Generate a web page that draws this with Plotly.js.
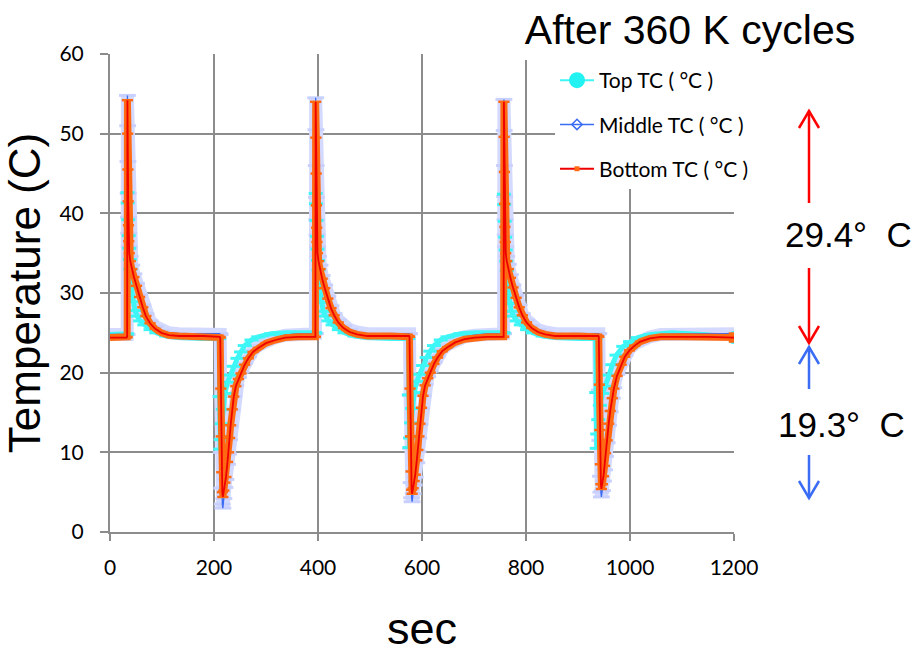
<!DOCTYPE html>
<html><head><meta charset="utf-8">
<script src="https://cdn.plot.ly/plotly-3.0.1.min.js"></script>
<style>html,body{margin:0;padding:0;background:#fff;}</style>
</head><body>
<div id="chart" style="width:919px;height:654px;"></div>
<script>
// ---- data ----
const sec = [
  0, 20, 32,
  33, 33.5, 34, 34.5, 35, 35.5, 36, 37, 39, 42, 46, 51, 57, 63, 69, 77, 87, 99, 113, 133, 180, 211,
  212, 213, 214, 215, 216, 217, 219, 221, 223, 226, 228, 230, 232, 235, 238, 242, 247, 252, 259, 266, 275, 285, 300, 318, 337, 362, 394,
  395, 395.5, 396, 396.5, 397, 397.5, 398, 399, 401, 404, 408, 413, 419, 425, 431, 439, 449, 461, 475, 495, 540, 575,
  576, 577, 578, 579, 580, 581, 583, 585, 587, 590, 592, 594, 596, 599, 602, 606, 611, 616, 623, 630, 639, 649, 664, 682, 701, 726, 756,
  757, 757.5, 758, 758.5, 759, 759.5, 760, 761, 763, 766, 770, 775, 781, 787, 793, 801, 811, 823, 837, 857, 900, 939,
  940, 941, 942, 943, 944, 945, 947, 949, 951, 953, 956, 959, 962, 966, 969, 975, 983, 990, 999, 1009, 1020, 1038, 1059, 1100, 1150, 1200
];
const bottomTC = [
  24.4, 24.4, 24.4,
  24.5, 54.2, 50, 45.5, 41.5, 38.5, 36.5, 35, 34, 33, 32, 30.9, 29.5, 28.2, 27.1, 26.2, 25.5, 25.0, 24.7, 24.6, 24.6, 24.5,
  24.4, 18, 12, 7.5, 5, 4.4, 5.2, 6.2, 6.9, 8.8, 10, 11.8, 13.4, 15.4, 17.0, 18.3, 19.2, 19.9, 21, 21.8, 22.6, 23.1, 23.7, 24.1, 24.4, 24.5, 24.5,
  24.5, 54.0, 49.5, 45, 41, 38.2, 36.4, 35, 34, 33, 31.8, 30.6, 29.3, 28.1, 27.2, 26.3, 25.6, 25.1, 24.8, 24.6, 24.6, 24.6,
  24.5, 18, 12, 7.6, 5.3, 4.8, 5.5, 6.4, 7.2, 9.0, 10.3, 12, 13.6, 15.6, 17.1, 18.4, 19.3, 20.0, 21.1, 21.9, 22.7, 23.2, 23.8, 24.2, 24.4, 24.5, 24.5,
  24.5, 54.0, 49.6, 45.2, 41.2, 38.3, 36.4, 35, 34, 33, 31.9, 30.7, 29.4, 28.2, 27.2, 26.3, 25.6, 25.1, 24.8, 24.6, 24.6, 24.6,
  24.5, 18.5, 12.8, 8.5, 6.0, 5.4, 6.0, 7.0, 8.3, 9.9, 11.5, 13.6, 15.2, 16.8, 18.0, 19.6, 21.0, 22.0, 22.8, 23.4, 23.9, 24.3, 24.5, 24.5, 24.5, 24.4
];
const middleTC = [
  24.8, 24.8, 24.8,
  24.8, 54.8, 51, 46.5, 42.5, 39.5, 37.5, 35.8, 34.6, 33.5, 32.4, 31.2, 29.8, 28.5, 27.4, 26.5, 25.8, 25.3, 25.0, 24.9, 24.9, 24.9,
  24.8, 17, 10, 5.5, 3.5, 3.0, 4.2, 5.6, 6.6, 8.5, 9.8, 11.6, 13.3, 15.3, 17.0, 18.4, 19.4, 20.1, 21.2, 22.0, 22.8, 23.4, 24.0, 24.4, 24.7, 24.9, 24.9,
  24.9, 54.5, 50.5, 46, 42, 39.2, 37.3, 35.8, 34.6, 33.5, 32.2, 31.0, 29.6, 28.4, 27.4, 26.6, 25.9, 25.4, 25.1, 24.9, 24.9, 24.9,
  24.9, 17.2, 10.5, 6.2, 4.3, 3.8, 4.8, 5.9, 6.9, 8.7, 10.1, 11.8, 13.5, 15.5, 17.1, 18.5, 19.5, 20.2, 21.3, 22.1, 22.9, 23.5, 24.1, 24.5, 24.7, 24.9, 24.9,
  24.9, 54.3, 50.4, 46, 42.1, 39.2, 37.3, 35.8, 34.6, 33.6, 32.3, 31.0, 29.7, 28.5, 27.4, 26.6, 25.9, 25.4, 25.1, 24.9, 24.9, 24.9,
  24.9, 17.8, 11.5, 7.0, 5.0, 4.4, 5.2, 6.4, 7.8, 9.5, 11.2, 13.4, 15.1, 16.8, 18.1, 19.8, 21.2, 22.2, 23.0, 23.6, 24.1, 24.5, 24.8, 24.9, 24.9, 24.9
];
const secTop = [
  0, 20, 32,
  33, 33.5, 34, 35, 36, 37, 38, 39, 41, 44, 48, 52, 58, 66, 78, 89, 108, 133, 180, 209,
  210, 211, 212, 213, 215, 217, 221, 226, 231, 238, 245, 252, 259, 272, 285, 310, 340, 394,
  395, 395.5, 396, 397, 398, 399, 400, 401, 403, 406, 410, 414, 420, 428, 440, 451, 470, 495, 540, 573,
  574, 575, 576, 577, 579, 581, 585, 590, 595, 602, 609, 616, 623, 636, 649, 674, 704, 756,
  757, 757.5, 758, 759, 760, 761, 762, 763, 765, 768, 772, 776, 782, 790, 802, 813, 832, 857, 900, 933,
  934, 935, 936, 937, 939, 942, 947, 953, 960, 966, 974, 987, 1000, 1015, 1040, 1080, 1140, 1200
];
const topTC = [
  24.8, 24.8, 24.8,
  24.9, 42.6, 41.3, 39.2, 37.2, 35.6, 34.2, 33.0, 30.6, 28.9, 27.8, 27.1, 26.5, 26.0, 25.4, 25.0, 24.6, 24.4, 24.3, 24.3,
  24.3, 17, 10.4, 11.6, 13.6, 15.4, 17.4, 18.8, 19.7, 20.8, 21.8, 22.6, 23.4, 24.1, 24.5, 24.9, 25.0, 25.0,
  25.0, 42.5, 41.2, 39.1, 37.1, 35.5, 34.1, 32.9, 30.5, 28.8, 27.7, 27.1, 26.5, 26.0, 25.4, 25.0, 24.6, 24.4, 24.3, 24.3,
  24.3, 17.2, 10.6, 11.8, 13.7, 15.5, 17.5, 18.9, 19.8, 20.9, 21.9, 22.7, 23.4, 24.1, 24.5, 24.9, 25.0, 25.0,
  25.0, 42.4, 41.1, 39.0, 37.0, 35.4, 34.0, 32.8, 30.4, 28.7, 27.7, 27.1, 26.5, 26.0, 25.4, 25.0, 24.6, 24.4, 24.3, 24.3,
  24.3, 17.5, 10.5, 12.3, 14.1, 15.9, 17.4, 18.3, 19.7, 21.0, 22.2, 23.3, 23.9, 24.4, 24.8, 25.0, 24.8, 24.4
];
const seriesNames = ['Top TC ( °C )', 'Middle TC ( °C )', 'Bottom TC ( °C )'];
const xTicks = [0, 200, 400, 600, 800, 1000, 1200];
const yTicks = [0, 10, 20, 30, 40, 50, 60];
const chartTitle = 'After 360 K cycles';
const xTitle = 'sec';
const yTitle = 'Temperature (C)';
const hotSwing = '29.4°\u00a0\u00a0C';
const coldSwing = '19.3°\u00a0\u00a0C';

// ---- geometry helpers (pixel -> paper) ----
const ML = 110, MT = 54, PW = 624, PH = 478;
const px = x => (x - ML) / PW;
const py = y => (MT + PH - y) / PH;

const CYAN = '#3ff6f6', LAV = '#d4daff', ORANGE = '#ff6a12', RED = '#ee0000', BLUE = '#3a6cf4';
const topSymbols = secTop.map((_, i) => i === secTop.length - 1 ? 'circle-open' : 'line-ew');
const botSymbols = sec.map((_, i) => i === sec.length - 1 ? 'square' : 'line-ew');

const traces = [
  {x: sec, y: middleTC, mode: 'lines+markers', showlegend: false, hoverinfo: 'skip',
   line: {color: LAV, width: 13}, marker: {symbol: 'line-ew', size: 12, line: {width: 3, color: '#c8d0ff'}}},
  {x: secTop, y: topTC, mode: 'lines+markers', showlegend: false, hoverinfo: 'skip',
   line: {color: CYAN, width: 5}, marker: {symbol: topSymbols, size: 10, color: CYAN, line: {width: 3, color: CYAN}}},
  {x: sec, y: middleTC, mode: 'lines', showlegend: false, hoverinfo: 'skip',
   line: {color: BLUE, width: 1.3}},
  {x: sec, y: bottomTC, mode: 'lines+markers', showlegend: false, hoverinfo: 'skip',
   line: {color: ORANGE, width: 7}, marker: {symbol: botSymbols, size: 8, color: ORANGE, line: {width: 2.5, color: ORANGE}}},
  {x: sec, y: bottomTC, mode: 'lines', showlegend: false, hoverinfo: 'skip',
   line: {color: RED, width: 1.8}},
  // legend entries
  {x: [null], y: [null], name: seriesNames[0], legendgroup: 'a', mode: 'lines+markers',
   line: {color: CYAN, width: 2}, marker: {symbol: 'circle', size: 16, color: '#22f2f2'}},
  {x: [null], y: [null], name: seriesNames[1], legendgroup: 'b', mode: 'lines+markers',
   line: {color: BLUE, width: 1.5}, marker: {symbol: 'diamond-open', size: 8, color: BLUE, line: {width: 1.5}}},
  {x: [null], y: [null], name: seriesNames[2], legendgroup: 'c', mode: 'lines+markers',
   line: {color: RED, width: 2}, marker: {symbol: 'square', size: 5, color: ORANGE}}
];

function arrow(x, yStemEnd, yTip, color) {
  const dir = yTip < yStemEnd ? 1 : -1; // 1 = pointing up
  const headBase = yTip + dir * 17;
  return [
    {type: 'line', xref: 'paper', yref: 'paper', x0: px(x), x1: px(x), y0: py(yStemEnd), y1: py(yTip),
     line: {color: color, width: 2.5}},
    {type: 'path', xref: 'paper', yref: 'paper',
     path: `M ${px(x - 10)},${py(headBase)} L ${px(x)},${py(yTip)} L ${px(x + 10)},${py(headBase)}`,
     line: {color: color, width: 2.5}}
  ];
}

const shapes = [
  {type: 'rect', xref: 'paper', yref: 'paper', layer: 'above', x0: px(486), x1: px(919), y0: py(60), y1: py(0),
   fillcolor: '#ffffff', line: {width: 0}},
  ...arrow(809, 203, 111, '#ff0000'),
  ...arrow(809, 268, 343, '#ff0000'),
  ...arrow(809, 389, 347, '#3a6cf4'),
  ...arrow(809, 455, 498, '#3a6cf4')
];

const annotations = [
  {xref: 'paper', yref: 'paper', x: px(848), y: py(235), text: hotSwing, showarrow: false,
   xanchor: 'center', yanchor: 'middle', font: {family: 'Liberation Sans, Arial', size: 35, color: '#000'}},
  {xref: 'paper', yref: 'paper', x: px(841), y: py(424), text: coldSwing, showarrow: false,
   xanchor: 'center', yanchor: 'middle', font: {family: 'Liberation Sans, Arial', size: 35, color: '#000'}}
];

const axisCommon = {
  showgrid: true, gridcolor: '#8c8c8c', gridwidth: 2,
  showline: true, linecolor: '#8c8c8c', linewidth: 2,
  zeroline: false, ticks: 'outside', tickcolor: '#8c8c8c', tickwidth: 2,
  tickfont: {family: 'Lato, Noto Sans', size: 21, color: '#000'},
  fixedrange: true
};

const layout = {
  width: 919, height: 654,
  margin: {l: ML, r: 919 - ML - PW, t: MT, b: 654 - MT - PH, pad: 0},
  paper_bgcolor: '#fff', plot_bgcolor: '#fff',
  title: {text: chartTitle, font: {family: 'Liberation Sans, Arial', size: 41, color: '#000'},
          xref: 'container', yref: 'container', x: 690 / 919, xanchor: 'center', y: 1 - 30 / 654, yanchor: 'middle'},
  xaxis: Object.assign({}, axisCommon, {
    range: [0, 1200], tickvals: xTicks, ticktext: xTicks.map(String), ticklen: 7, ticklabelstandoff: 9,
    title: {text: xTitle, font: {family: 'Liberation Sans, Arial', size: 45, color: '#000'}, standoff: 36}
  }),
  yaxis: Object.assign({}, axisCommon, {
    range: [0, 60], tickvals: yTicks, ticktext: yTicks.map(String), ticklen: 8, ticklabelstandoff: 12,
    title: {text: yTitle, font: {family: 'Liberation Sans, Arial', size: 44, color: '#000'}, standoff: 12}
  }),
  legend: {x: px(555), y: py(60), xanchor: 'left', yanchor: 'top', bgcolor: '#ffffff', borderwidth: 0,
           font: {family: 'Lato, Noto Sans', size: 21, color: '#000'}, traceorder: 'grouped', tracegroupgap: 14,
           itemwidth: 34},
  shapes: shapes,
  annotations: annotations,
  showlegend: true
};

Plotly.newPlot('chart', traces, layout, {staticPlot: true, displayModeBar: false});
</script>
</body></html>
